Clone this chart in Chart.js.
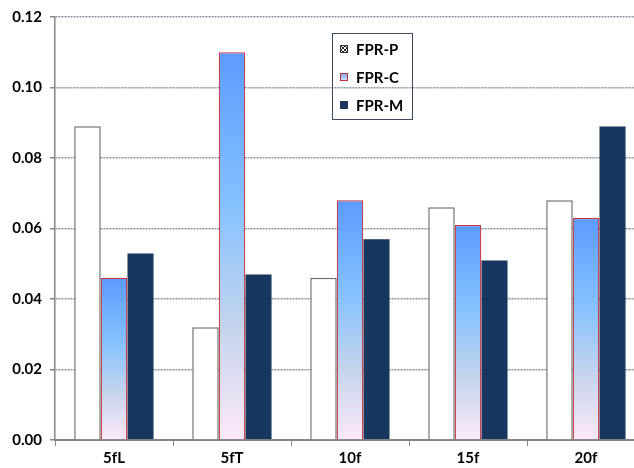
<!DOCTYPE html>
<html>
<head>
<meta charset="utf-8">
<script src="https://cdn.jsdelivr.net/npm/chart.js@4"></script>
<style>
  html, body { margin: 0; padding: 0; overflow: hidden; background: #fff; }
  #wrap { width: 646px; height: 468px; position: relative; }
</style>
</head>
<body>
<div id="wrap"><canvas id="c"></canvas></div>
<script>
// False-positive rates per configuration
const categories = ['5fL', '5fT', '10f', '15f', '20f'];
const seriesNames = ['FPR-P', 'FPR-C', 'FPR-M'];
const fprP = [0.089, 0.032, 0.046, 0.066, 0.068];
const fprC = [0.046, 0.110, 0.068, 0.061, 0.063];
const fprM = [0.053, 0.047, 0.057, 0.051, 0.089];
const yTickLabels = ['0.00', '0.02', '0.04', '0.06', '0.08', '0.10', '0.12'];

const FONT = 'Lato, "Liberation Sans", sans-serif';
const NAVY = '#17375E';
const RED_EDGE = '#C8303C';

// vertical blue-to-pink fade, stretched over each individual bar
function fadeFill(ctx) {
  const chart = ctx.chart;
  if (!chart.chartArea || ctx.raw == null) return '#86C2FF';
  const y = chart.scales.y;
  const top = y.getPixelForValue(ctx.raw);
  const base = y.getPixelForValue(0);
  const g = chart.ctx.createLinearGradient(0, top, 0, base);
  g.addColorStop(0, '#5B9BFE');
  g.addColorStop(0.4, '#86C2FF');
  g.addColorStop(0.7, '#C3D3EC');
  g.addColorStop(1, '#FCE9F8');
  return g;
}

// boxed legend sitting inside the plot
const boxLegend = {
  id: 'boxLegend',
  afterDraw(chart) {
    const c = chart.ctx;
    c.save();
    c.strokeStyle = '#3C4A5E';
    c.lineWidth = 1;
    c.strokeRect(332.5, 33.5, 80, 86);
    const rows = [49, 77, 105];
    c.font = 'bold 15px ' + FONT;
    c.textBaseline = 'middle';
    c.fillStyle = '#000';
    rows.forEach((ry, i) => {
      const x0 = 340, y0 = ry - 4, s = 8;
      if (i === 0) {
        c.fillStyle = '#fff';
        c.fillRect(x0, y0, s, s);
        c.fillStyle = '#222';
        for (let a = 0; a < 4; a++) for (let b = 0; b < 4; b++) {
          if ((a + b) % 2 === 0) c.fillRect(x0 + a * 2, y0 + b * 2, 2, 2);
        }
        c.strokeStyle = '#333';
        c.strokeRect(x0 + 0.5, y0 + 0.5, s - 1, s - 1);
      } else if (i === 1) {
        const g = c.createLinearGradient(0, y0, 0, y0 + s);
        g.addColorStop(0, '#6AA8FF');
        g.addColorStop(1, '#DDE6F6');
        c.fillStyle = g;
        c.fillRect(x0, y0, s, s);
        c.strokeStyle = RED_EDGE;
        c.strokeRect(x0 + 0.5, y0 + 0.5, s - 1, s - 1);
      } else {
        c.fillStyle = NAVY;
        c.fillRect(x0, y0, s, s);
      }
      c.fillStyle = '#000';
      c.fillText(seriesNames[i], 356, ry + 1);
    });
    c.restore();
  }
};

new Chart(document.getElementById('c'), {
  type: 'bar',
  data: {
    labels: categories,
    datasets: [
      { label: seriesNames[0], data: fprP, backgroundColor: '#fff',
        borderColor: '#6E6E6E', borderWidth: 1.5 },
      { label: seriesNames[1], data: fprC, backgroundColor: fadeFill,
        borderColor: RED_EDGE, borderWidth: 1.2 },
      { label: seriesNames[2], data: fprM, backgroundColor: NAVY,
        borderColor: '#0F2745', borderWidth: 0.5 }
    ]
  },
  options: {
    responsive: true,
    maintainAspectRatio: false,
    animation: false,
    devicePixelRatio: 1,
    layout: { padding: { top: 14, right: 1, left: 0, bottom: 0 } },
    datasets: { bar: { categoryPercentage: 0.674, barPercentage: 1.0 } },
    plugins: { legend: { display: false }, tooltip: { enabled: false } },
    scales: {
      x: {
        afterFit(s) { s.height = 28; },
        grid: { display: true, drawOnChartArea: false, drawTicks: true,
                tickLength: 6, color: '#868686', lineWidth: 1 },
        border: { display: true, color: '#868686', width: 2 },
        ticks: { color: '#000', padding: 3,
                 font: { family: FONT, size: 15, weight: 'bold' } }
      },
      y: {
        min: 0, max: 0.12,
        afterFit(s) { s.width = 55; },
        ticks: { stepSize: 0.02, color: '#000', padding: 8,
                 font: { family: FONT, size: 15, weight: 'bold' },
                 callback: (v, i) => yTickLabels[i] },
        grid: { color: '#8A93A2', lineWidth: 1.5, tickLength: 5,
                tickColor: '#868686' },
        border: { display: true, color: '#868686', width: 1.5, dash: [2, 1] }
      }
    }
  },
  plugins: [boxLegend]
});
</script>
</body>
</html>
